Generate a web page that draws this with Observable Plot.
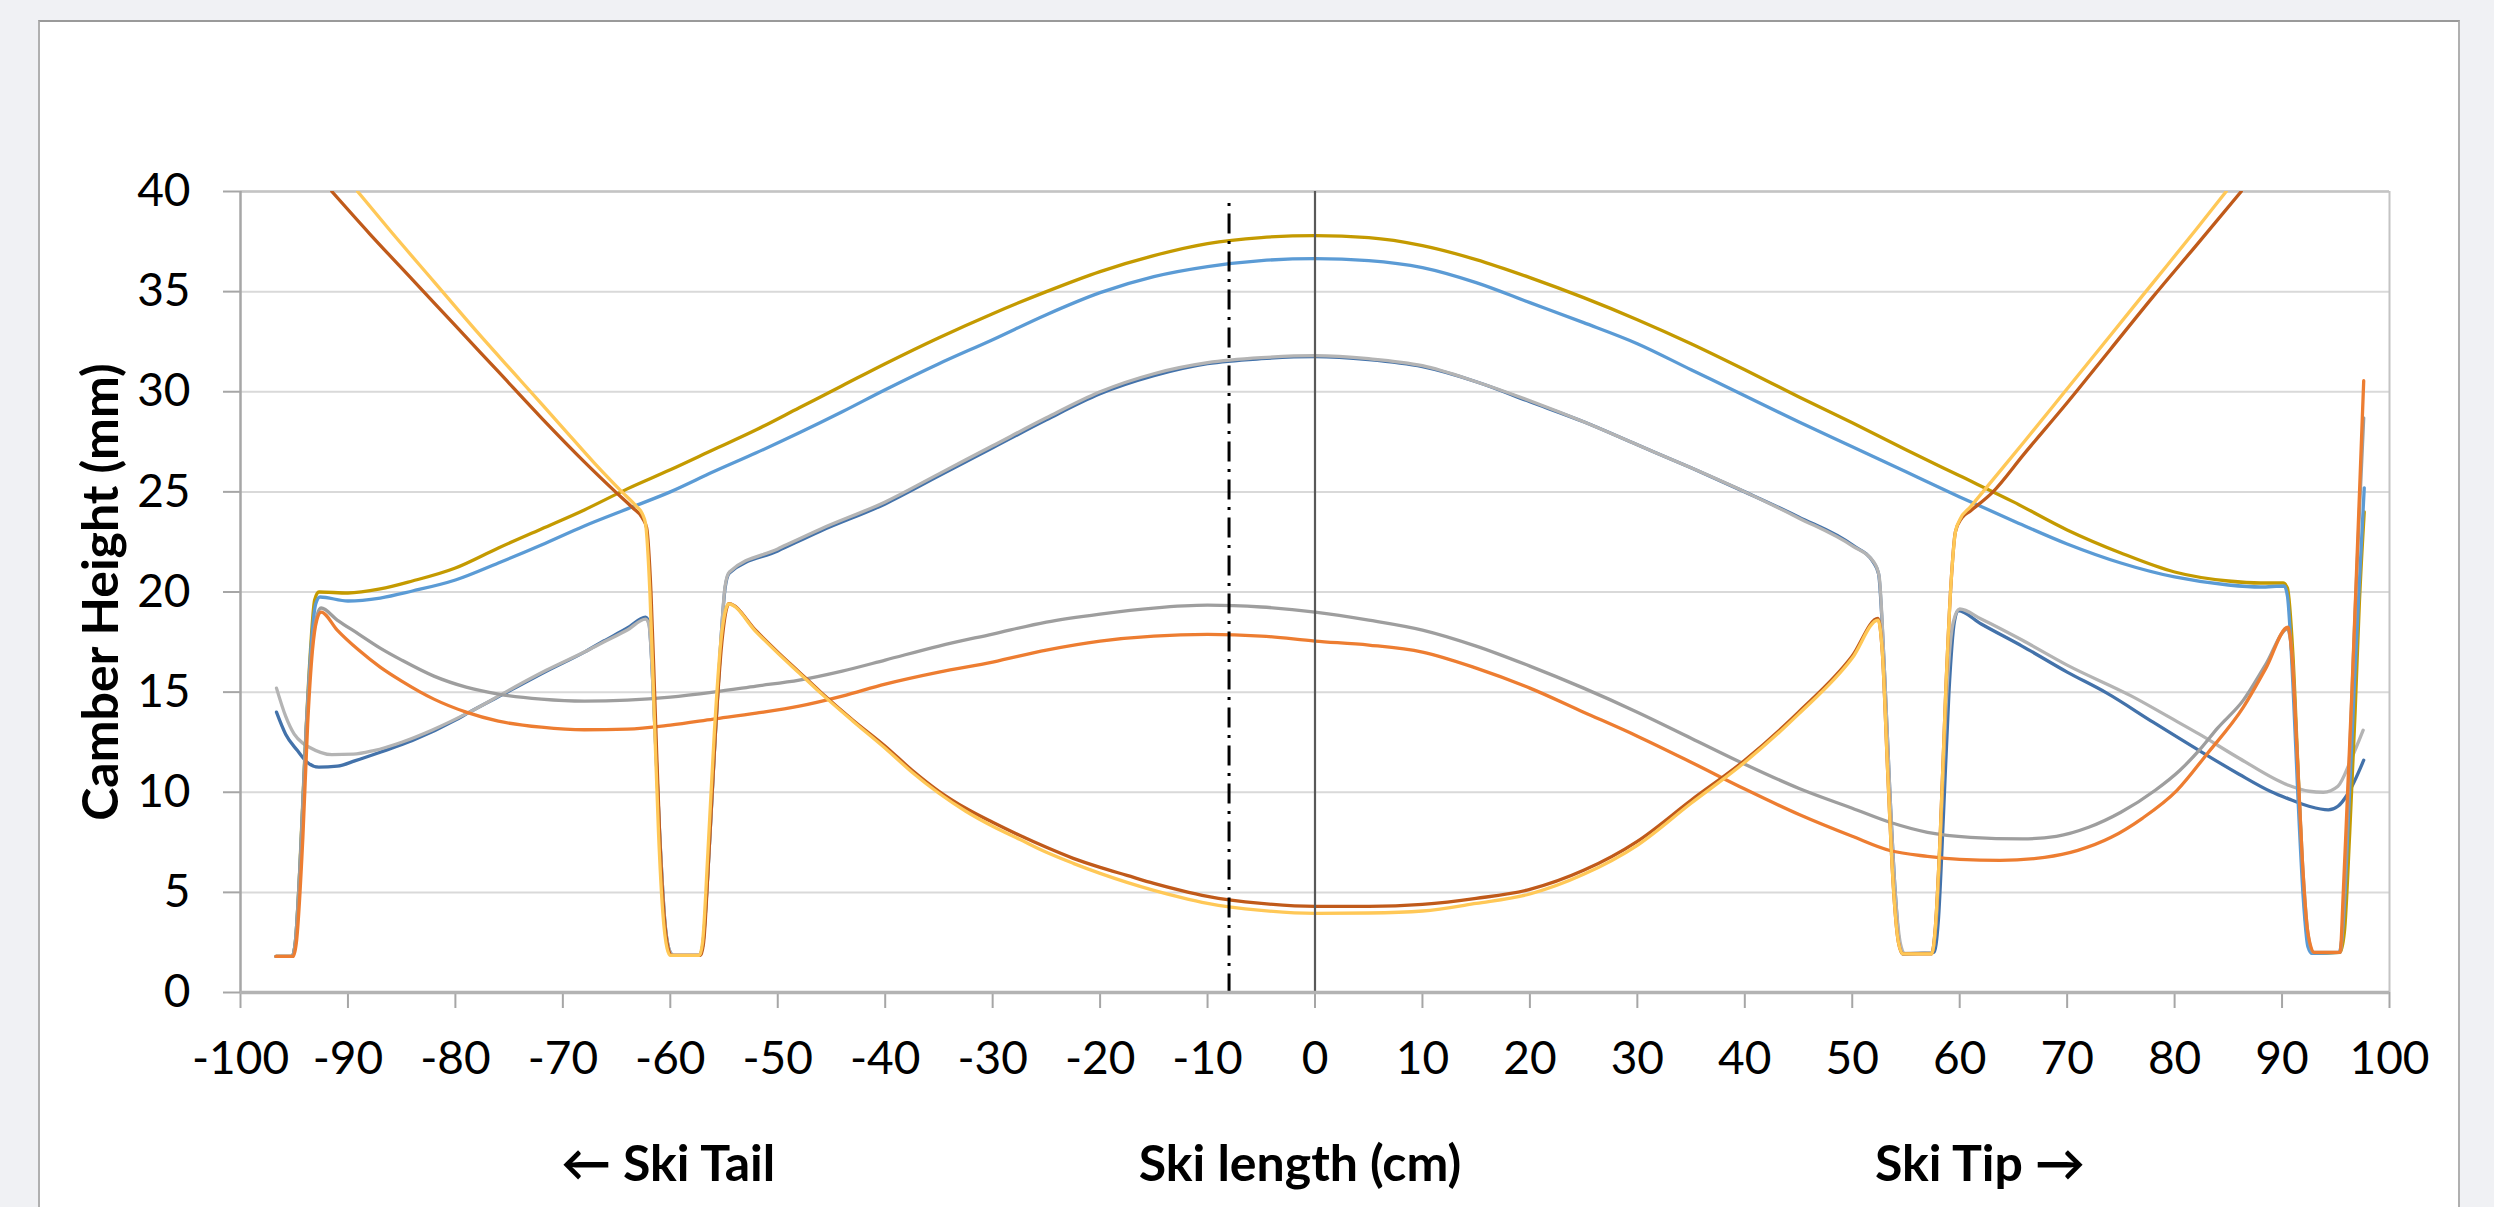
<!DOCTYPE html>
<html><head><meta charset="utf-8">
<script src="https://cdn.jsdelivr.net/npm/d3@7"></script>
<script src="https://cdn.jsdelivr.net/npm/@observablehq/plot@0.6"></script>
<style>
html,body{margin:0;padding:0;width:2494px;height:1207px;overflow:hidden;background:#f0f1f4;}
#card{position:absolute;left:38px;top:20px;width:2418px;height:1200px;background:#fff;border-top:2px solid #9a9a9a;border-left:2px solid #b0b0b0;border-right:2px solid #b0b0b0;}
#chart{position:absolute;left:0;top:0;}
</style></head><body>
<div id="card"></div><div id="chart"></div>
<script>
// ---- tick values and labels ----
const xTicks = [-100,-90,-80,-70,-60,-50,-40,-30,-20,-10,0,10,20,30,40,50,60,70,80,90,100];
const yTicks = [0,5,10,15,20,25,30,35,40];
const xDomain = [-100, 100];
const yDomain = [0, 40];
const yTitle = "Camber Height (mm)";
const xTitle = "Ski length (cm)";
const tailLabel = "\u2190 Ski Tail";
const tipLabel = "Ski Tip \u2192";

// ---- reference lines ----
const centerLine = [{x: 0, top: 40, bottom: 0}];
const dashLine = [{x: -8, top: 39.4, bottom: 0}];

// ---- series (x in cm, camber in mm) ----
const blue2 = [[-96.65,14.0],[-95.8,12.9],[-94.7,12.08],[-93.8,11.5],[-92.7,11.25],[-91,11.3],[-89.3,11.58],[-87,12.0],[-84,12.58],[-80,13.6],[-78.7,14.0],[-75,15.05],[-71.5,16.05],[-68,17.0],[-66.2,17.55],[-64,18.2],[-62.3,18.75],[-62.0,18.5],[-61.5,14],[-61.0,8],[-60.5,3.5],[-60.0,2.0],[-59.7,1.85],[-57.3,1.85],[-57.0,2.3],[-56.5,6],[-55.9,12],[-55.3,17.5],[-54.9,20.2],[-54.5,20.95],[-50,22.05],[-46,23.05],[-40,24.4],[-35,25.8],[-30,27.2],[-25,28.6],[-20,29.9],[-15,30.8],[-10,31.4],[-5,31.65],[0,31.75],[5,31.6],[10,31.25],[15,30.5],[20,29.5],[25,28.5],[30,27.35],[35,26.2],[40,25.0],[45,23.75],[50,22.35],[52.0,21.45],[52.45,20.9],[53.0,16],[53.5,10],[54.0,5],[54.4,2.4],[54.7,1.93],[57.6,2.0],[58.0,3.5],[58.5,9],[59.0,15],[59.5,18.5],[59.85,19.07],[62,18.4],[65.8,17.3],[70,16.0],[73.7,14.95],[78,13.5],[82.3,12.08],[86,10.9],[88.9,10.05],[90.6,9.67],[92.5,9.3],[94.3,9.12],[95.2,9.3],[96.1,9.9],[97.6,11.6]];

const gray2 = [[-96.65,15.2],[-95.8,13.8],[-95,12.9],[-94.2,12.45],[-93.6,12.25],[-91.5,11.88],[-89.5,11.9],[-87.6,12.08],[-85,12.5],[-82.2,13.1],[-78.7,14.0],[-75,15.1],[-71.5,16.1],[-68,17.0],[-66.2,17.5],[-64,18.1],[-62.3,18.65],[-62.0,18.4],[-61.5,14],[-61.0,8],[-60.5,3.5],[-60.0,2.0],[-59.7,1.85],[-57.3,1.85],[-57.0,2.3],[-56.5,6],[-55.9,12],[-55.3,17.5],[-54.9,20.3],[-54.5,21.0],[-50,22.15],[-46,23.15],[-40,24.5],[-35,25.9],[-30,27.3],[-25,28.7],[-20,30.0],[-15,30.9],[-10,31.45],[-5,31.7],[0,31.8],[5,31.65],[10,31.3],[15,30.5],[20,29.55],[25,28.5],[30,27.35],[35,26.2],[40,25.0],[45,23.7],[50,22.3],[52.0,21.5],[52.5,20.8],[53.0,16],[53.5,10],[54.0,5],[54.5,2.4],[54.9,1.95],[57.4,2.0],[57.8,3.5],[58.3,9],[58.8,15],[59.4,18.5],[60.0,19.15],[62,18.65],[65.8,17.6],[70,16.35],[76,14.8],[80,13.6],[82.3,12.9],[86,11.7],[90.6,10.35],[92.5,10.05],[93.85,10.0],[95.2,10.3],[96.4,11.6],[97.55,13.1]];

const gold = [[-96.7,1.8],[-95.2,1.8],[-94.9,2.5],[-94.5,6],[-94.0,12],[-93.5,17],[-93.1,19.6],[-92.7,20.0],[-90,19.95],[-87,20.15],[-84,20.55],[-80,21.2],[-76,22.2],[-72,23.15],[-68,24.1],[-64,25.15],[-60,26.1],[-56,27.1],[-52,28.1],[-48,29.2],[-44,30.3],[-40,31.4],[-35,32.7],[-30,33.9],[-25,35.0],[-20,36.0],[-15,36.8],[-10,37.4],[-5,37.7],[0,37.8],[5,37.7],[10,37.3],[15,36.6],[20,35.7],[25,34.7],[30,33.6],[35,32.4],[40,31.1],[45,29.75],[50,28.45],[55,27.1],[60,25.8],[65,24.5],[70,23.1],[75,21.95],[80,21.0],[85,20.55],[88,20.45],[90.1,20.45],[90.5,20.2],[91.0,17],[91.5,11],[92.0,5],[92.5,2.3],[92.9,1.95],[95.4,2.0],[95.8,3],[96.3,8],[96.8,14],[97.2,19.5],[97.65,24.0]];

const blue1 = [[-96.7,1.8],[-95.2,1.8],[-94.9,2.5],[-94.4,7],[-93.9,13],[-93.4,17.5],[-93.0,19.4],[-92.6,19.75],[-90,19.55],[-87,19.7],[-84,20.05],[-80,20.6],[-76,21.45],[-72,22.35],[-68,23.3],[-64,24.15],[-60,25.0],[-56,26.0],[-52,26.95],[-48,27.95],[-44,29.0],[-40,30.1],[-35,31.4],[-30,32.6],[-25,33.85],[-20,34.95],[-15,35.75],[-10,36.25],[-5,36.55],[0,36.65],[5,36.55],[10,36.2],[15,35.45],[20,34.45],[25,33.45],[30,32.4],[35,31.1],[40,29.8],[45,28.5],[50,27.25],[55,26.0],[60,24.75],[65,23.55],[70,22.4],[75,21.45],[80,20.75],[85,20.35],[88,20.25],[90.2,20.3],[90.5,19.8],[91.0,15.5],[91.5,9.5],[92.0,4.5],[92.4,2.3],[92.8,1.95],[95.3,2.0],[95.7,3.5],[96.2,9],[96.7,15],[97.2,20.5],[97.65,25.2]];

const gray1 = [[-96.7,1.8],[-95.2,1.8],[-94.9,2.5],[-94.4,7],[-93.9,13],[-93.4,17],[-92.9,18.8],[-92.5,19.2],[-91,18.6],[-89,17.9],[-87,17.2],[-85,16.6],[-82,15.8],[-79,15.25],[-76,14.9],[-72,14.65],[-68,14.55],[-64,14.6],[-60,14.75],[-56,15.0],[-52,15.3],[-48,15.6],[-44,16.05],[-40,16.6],[-35,17.3],[-30,17.9],[-25,18.5],[-20,18.9],[-15,19.2],[-10,19.34],[-5,19.25],[0,19.0],[5,18.6],[10,18.1],[15,17.3],[20,16.3],[25,15.2],[30,14.0],[35,12.7],[40,11.4],[45,10.2],[50,9.2],[53.5,8.5],[57,8.0],[61,7.75],[65.8,7.67],[69,7.8],[72,8.25],[75,9.0],[78.2,10.1],[80.5,11.1],[82.3,12.1],[84,13.2],[86.4,14.6],[88.5,16.4],[90.5,18.15],[90.9,17.0],[91.4,12],[91.9,6.5],[92.4,3],[92.9,2.0],[95.4,2.0],[95.8,5],[96.3,12],[96.8,19],[97.2,24],[97.6,28.7]];

const orange = [[-96.7,1.8],[-95.1,1.8],[-94.8,2.5],[-94.2,7.7],[-93.75,13.4],[-93.3,17.1],[-92.9,18.6],[-92.5,19.0],[-91,18.1],[-89,17.1],[-87,16.25],[-85,15.55],[-82,14.65],[-79,14.0],[-76,13.55],[-72,13.25],[-68,13.12],[-64,13.15],[-60,13.35],[-56,13.65],[-52,13.95],[-48,14.3],[-44,14.8],[-40,15.4],[-35,16.0],[-30,16.5],[-25,17.1],[-20,17.55],[-15,17.8],[-10,17.88],[-5,17.8],[0,17.55],[5,17.35],[10,17.0],[15,16.2],[20,15.2],[25,14.0],[30,12.8],[35,11.5],[40,10.16],[45,8.9],[50,7.8],[53.5,7.09],[57,6.8],[60,6.65],[63.75,6.6],[67.9,6.75],[71,7.1],[74.1,7.75],[77,8.7],[80.2,10.08],[83,11.9],[86.4,14.25],[88.5,16.2],[90.55,18.24],[90.9,17.0],[91.4,12],[91.9,6.5],[92.4,3],[93.0,2.0],[95.4,2.0],[95.7,5],[96.1,10],[96.5,15],[97.0,22],[97.6,30.55]];

const brown = [[-91.5,40],[-88,37.9],[-84,35.6],[-80,33.3],[-76,31.0],[-72,28.7],[-68,26.5],[-65,24.95],[-63.5,24.2],[-62.6,23.7],[-62.2,23.2],[-61.8,20],[-61.4,14],[-61.0,8],[-60.6,4],[-60.2,2.2],[-59.9,1.85],[-57.2,1.85],[-56.9,2.5],[-56.4,7],[-55.8,13],[-55.2,17.5],[-54.75,19.2],[-54.56,19.42],[-52,18.05],[-50,17.0],[-48,16.0],[-46,15.0],[-43,13.6],[-40,12.3],[-37.5,11.1],[-35,10.05],[-32.5,9.2],[-30,8.5],[-27.5,7.85],[-25,7.25],[-22.5,6.7],[-20,6.25],[-17.5,5.85],[-15,5.45],[-12.5,5.1],[-10,4.8],[-5,4.45],[0,4.3],[5,4.3],[10,4.4],[15,4.7],[20,5.15],[25,6.1],[30,7.55],[35,9.6],[40,11.6],[45,14.0],[50,16.8],[52.4,18.68],[52.8,17],[53.3,11],[53.8,5.5],[54.3,2.5],[54.7,1.93],[57.4,1.93],[57.7,3],[58.2,8],[58.7,15],[59.2,20.5],[59.6,23.0],[60.2,23.7],[61,24.05],[63,24.95],[66,26.9],[70,29.45],[74,32.1],[78,34.75],[82,37.3],[86.2,40]];

const lightOrange = [[-89.1,40],[-86,38.0],[-82,35.5],[-78,33.0],[-74,30.6],[-70,28.2],[-67,26.4],[-64.5,25.0],[-63.2,24.3],[-62.6,23.9],[-62.3,23.4],[-61.9,20],[-61.5,14],[-61.1,8],[-60.7,4],[-60.3,2.2],[-60.0,1.85],[-57.3,1.85],[-57.0,2.5],[-56.5,7],[-55.9,13],[-55.3,17.5],[-54.8,19.2],[-54.56,19.4],[-52,18.0],[-50,16.95],[-48,15.95],[-46,14.95],[-43,13.55],[-40,12.2],[-37.5,11.0],[-35,9.95],[-32.5,9.05],[-30,8.3],[-27.5,7.65],[-25,7.0],[-22.5,6.45],[-20,5.95],[-17.5,5.5],[-15,5.1],[-12.5,4.75],[-10,4.45],[-5,4.1],[0,3.95],[5,3.97],[10,4.07],[15,4.45],[20,4.92],[25,5.9],[30,7.35],[35,9.45],[40,11.5],[45,13.9],[50,16.7],[52.4,18.6],[52.8,17],[53.3,11],[53.8,5.5],[54.3,2.5],[54.7,1.93],[57.4,1.93],[57.7,3],[58.2,8],[58.7,15],[59.2,20.5],[59.6,23.0],[60.0,23.6],[61,24.25],[63,25.55],[66,27.5],[70,30.15],[74,32.8],[78,35.45],[82,38.1],[84.8,40]];

// drawing order and colours
const seriesList = [
  {data: blue2, color: "#4372AA"},
  {data: gray2, color: "#B4B4B4"},
  {data: gold, color: "#C49A00"},
  {data: blue1, color: "#5B9BD5"},
  {data: gray1, color: "#9E9E9E"},
  {data: orange, color: "#ED7D31"},
  {data: brown, color: "#C05A1A"},
  {data: lightOrange, color: "#FFC857"}
];

const FONT = "Lato, 'Open Sans', sans-serif";

const lineMarks = seriesList.map(s =>
  Plot.line(s.data, {x: d => d[0], y: d => d[1], stroke: s.color, strokeWidth: 3.3,
    curve: "monotone-x", clip: true, strokeLinejoin: "round", strokeLinecap: "round"}));

const chart = Plot.plot({
  width: 2494, height: 1207,
  marginLeft: 240, marginRight: 105, marginTop: 191, marginBottom: 215,
  style: {background: "transparent", fontFamily: FONT, color: "#000"},
  x: {domain: xDomain},
  y: {domain: yDomain},
  marks: [
    Plot.gridY(yTicks, {stroke: "#d9d9d9", strokeOpacity: 1, strokeWidth: 2}),
    Plot.ruleY([yDomain[1]], {stroke: "#c4c4c4", strokeWidth: 2.5}),
    Plot.ruleX([xDomain[1]], {stroke: "#c4c4c4", strokeWidth: 2}),
    Plot.axisY({ticks: yTicks, tickSize: 17, tickPadding: 33, stroke: "#a6a6a6", strokeWidth: 2,
      fontSize: 46, fontFamily: FONT, label: null, tickFormat: d => String(d)}),
    Plot.axisX({ticks: xTicks, tickSize: 16, tickPadding: 33, stroke: "#a6a6a6", strokeWidth: 2,
      fontSize: 46, fontFamily: FONT, label: null, tickFormat: d => String(d)}),
    ...lineMarks,
    Plot.ruleX(centerLine, {x: "x", y1: "top", y2: "bottom", stroke: "#595959", strokeWidth: 2.2}),
    Plot.ruleX(dashLine, {x: "x", y1: "top", y2: "bottom", stroke: "#000", strokeWidth: 3,
      strokeDasharray: "3,7.5,20,7.5"}),
    Plot.ruleX([xDomain[0]], {stroke: "#a6a6a6", strokeWidth: 2.5}),
    Plot.ruleY([yDomain[0]], {stroke: "#b3b3b3", strokeWidth: 3.5}),
    Plot.text([yTitle], {text: d => d, frameAnchor: "left", dx: -139, rotate: -90,
      fontSize: 50, fontWeight: "bold", fontFamily: FONT, lineAnchor: "middle", textAnchor: "middle"}),
    Plot.text([xTitle], {text: d => d, frameAnchor: "bottom", dx: -15, dy: 172,
      fontSize: 50, fontWeight: "bold", fontFamily: FONT, lineAnchor: "middle"}),
    Plot.text([tailLabel], {text: d => d, frameAnchor: "bottom", dx: -647, dy: 172,
      fontSize: 50, fontWeight: "bold", fontFamily: FONT, lineAnchor: "middle"}),
    Plot.text([tipLabel], {text: d => d, frameAnchor: "bottom", dx: 665, dy: 172,
      fontSize: 50, fontWeight: "bold", fontFamily: FONT, lineAnchor: "middle"})
  ]
});
document.getElementById("chart").appendChild(chart);
</script>
</body></html>
